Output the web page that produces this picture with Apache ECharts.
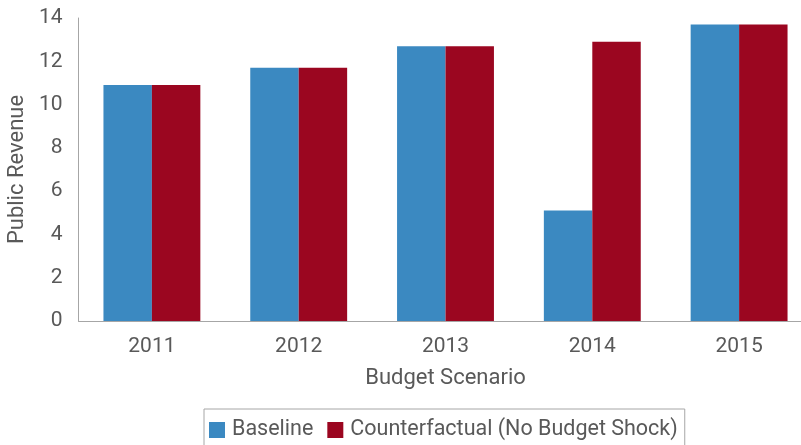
<!DOCTYPE html>
<html>
<head>
<meta charset="utf-8">
<title>Public Revenue by Budget Scenario</title>
<script src="https://cdn.jsdelivr.net/npm/echarts@6/dist/echarts.min.js"></script>
<style>
  html, body { margin: 0; padding: 0; background: #ffffff; }
  #chart { width: 801px; height: 445px; }
</style>
</head>
<body>
<div id="chart"></div>
<script>
// Years on the category axis
const years = ['2011', '2012', '2013', '2014', '2015'];
// Public revenue under each scenario
const baseline = [10.9, 11.7, 12.7, 5.1, 13.7];
const counterfactual = [10.9, 11.7, 12.7, 12.9, 13.7];
// Value axis ticks
const yTicks = [0, 2, 4, 6, 8, 10, 12, 14];

const seriesNames = ['Baseline', 'Counterfactual (No Budget Shock)'];
const textGrey = '#595959';
const axisGrey = '#a6a6a6';
const textFont = 'Roboto, "Liberation Sans", sans-serif';

const chart = echarts.init(document.getElementById('chart'), null, { renderer: 'canvas' });

chart.setOption({
  animation: false,
  backgroundColor: '#ffffff',
  grid: {
    left: 78.5, top: 18, width: 734, height: 303,
    containLabel: false,
    outerBoundsMode: 'none'
  },
  legend: {
    data: seriesNames,
    left: 204,
    top: 409,
    icon: 'rect',
    itemWidth: 16,
    itemHeight: 16,
    itemGap: 14,
    padding: [10, 7, 14, 5],
    borderColor: '#a6a6a6',
    borderWidth: 1,
    textStyle: { color: textGrey, fontFamily: textFont, fontSize: 21.5, padding: [0, 0, 0, 2] }
  },
  xAxis: {
    type: 'category',
    data: years,
    name: 'Budget Scenario',
    nameLocation: 'middle',
    nameGap: 46,
    nameMoveOverlap: false,
    nameTextStyle: { color: textGrey, fontFamily: textFont, fontSize: 22 },
    axisLine: { show: true, lineStyle: { color: axisGrey, width: 1 } },
    axisTick: { show: false },
    axisLabel: { color: textGrey, fontFamily: textFont, fontSize: 21, margin: 15 },
    splitLine: { show: false }
  },
  yAxis: {
    type: 'value',
    min: yTicks[0],
    max: yTicks[yTicks.length - 1],
    interval: yTicks[1] - yTicks[0],
    name: 'Public Revenue',
    nameLocation: 'middle',
    nameGap: 50,
    nameMoveOverlap: false,
    nameTextStyle: { color: textGrey, fontFamily: textFont, fontSize: 22 },
    axisLine: { show: true, lineStyle: { color: axisGrey, width: 1 } },
    axisTick: { show: false },
    axisLabel: { color: textGrey, fontFamily: textFont, fontSize: 21, margin: 16 },
    splitLine: { show: false }
  },
  series: [
    {
      name: seriesNames[0],
      type: 'bar',
      data: baseline,
      itemStyle: { color: '#3b89c1' },
      barGap: '0%',
      barCategoryGap: '34%'
    },
    {
      name: seriesNames[1],
      type: 'bar',
      data: counterfactual,
      itemStyle: { color: '#9b0620' },
      barGap: '0%',
      barCategoryGap: '34%'
    }
  ]
});
</script>
</body>
</html>
